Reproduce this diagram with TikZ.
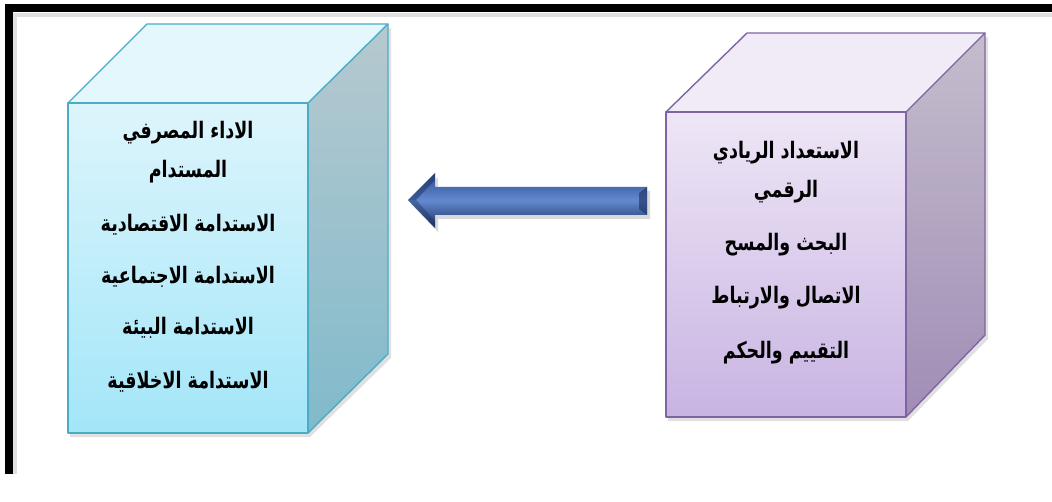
\documentclass[tikz,border=0pt]{standalone}
\usepackage{fontspec}
\newfontfamily\arabicfont[Script=Arabic]{DejaVu Sans}
\TeXXeTstate=1
\usetikzlibrary{calc}
\definecolor{cyanedge}{HTML}{4BACC6}
\definecolor{cyantop}{HTML}{E4F7FD}
\definecolor{cyanfronttop}{HTML}{DDF5FC}
\definecolor{cyanfrontbot}{HTML}{A3E6F8}
\definecolor{cyansidetop}{HTML}{B6C9CF}
\definecolor{cyansidebot}{HTML}{80BACB}
\definecolor{violetedge}{HTML}{8064A2}
\definecolor{violettop}{HTML}{F1EBF8}
\definecolor{violetfronttop}{HTML}{EEE6F6}
\definecolor{violetfrontbot}{HTML}{C8B4E2}
\definecolor{violetsidetop}{HTML}{C4BDCC}
\definecolor{violetsidebot}{HTML}{A08DB6}
\definecolor{arrowdark}{HTML}{1A2F5E}
\definecolor{arrowmid}{HTML}{6389D0}
\definecolor{arrowtop}{HTML}{2D4D92}
\newcommand{\artext}[1]{\scalebox{1}[1.3]{\beginR #1\endR}}
\tikzset{
  lbl/.style={font=\arabicfont\bfseries\fontsize{17.5}{20}\selectfont, inner sep=0pt, anchor=center},
  cubeedge/.style={line width=1.4pt, line join=round},
  shadowfill/.style={fill=black, opacity=0.12}
}
\begin{document}
\begin{tikzpicture}[x=1pt,y=-1pt]
\useasboundingbox (0,0) rectangle (1052,502);
\fill[white] (0,0) rectangle (1052,502);
% frame shadow and frame
\fill[black!12] (12,13) rectangle (1052,17);
\fill[black!12] (13,13) rectangle (17,474);
\draw[line width=8pt, line cap=butt] (8.5,474) -- (8.5,8) -- (1052,8);
% ---------- left cube ----------
\coordinate (L1) at (68,103);
\coordinate (L2) at (308,103);
\coordinate (L3) at (308,433);
\coordinate (L4) at (68,433);
\coordinate (L5) at (147,24);
\coordinate (L6) at (388,24);
\coordinate (L7) at (388,354);
\fill[shadowfill] ($(L1)+(2,4)$) -- ($(L4)+(2,4)$) -- ($(L3)+(2,4)$) -- ($(L7)+(3,4)$) -- ($(L6)+(3,4)$) -- cycle;
\shade[top color=cyanfronttop, bottom color=cyanfrontbot] (L1) -- (L2) -- (L3) -- (L4) -- cycle;
\fill[cyantop] (L1) -- (L5) -- (L6) -- (L2) -- cycle;
\shade[top color=cyansidetop, bottom color=cyansidebot] (L2) -- (L6) -- (L7) -- (L3) -- cycle;
\draw[cubeedge, cyanedge] (L1) -- (L2) -- (L3) -- (L4) -- cycle;
\draw[cubeedge, cyanedge] (L1) -- (L5) -- (L6) -- (L2);
\draw[cubeedge, cyanedge] (L6) -- (L7) -- (L3);
\node[lbl] (la) at (188,133) {\artext{الاداء المصرفي}};
\node[lbl] (lb) at (188,172) {\artext{المستدام}};
\node[lbl] (lc) at (188,225) {\artext{الاستدامة الاقتصادية}};
\node[lbl] (ld) at (188,277) {\artext{الاستدامة الاجتماعية}};
\node[lbl] (le) at (188,328) {\artext{الاستدامة البيئة}};
\node[lbl] (lf) at (188,382) {\artext{الاستدامة الاخلاقية}};
% ---------- right cube ----------
\coordinate (R1) at (666,112);
\coordinate (R2) at (906,112);
\coordinate (R3) at (906,417);
\coordinate (R4) at (666,417);
\coordinate (R5) at (747,33);
\coordinate (R6) at (985,33);
\coordinate (R7) at (985,335);
\fill[shadowfill] ($(R1)+(2,4)$) -- ($(R4)+(2,4)$) -- ($(R3)+(2,4)$) -- ($(R7)+(3,4)$) -- ($(R6)+(3,4)$) -- cycle;
\shade[top color=violetfronttop, bottom color=violetfrontbot] (R1) -- (R2) -- (R3) -- (R4) -- cycle;
\fill[violettop] (R1) -- (R5) -- (R6) -- (R2) -- cycle;
\shade[top color=violetsidetop, bottom color=violetsidebot] (R2) -- (R6) -- (R7) -- (R3) -- cycle;
\draw[cubeedge, violetedge] (R1) -- (R2) -- (R3) -- (R4) -- cycle;
\draw[cubeedge, violetedge] (R1) -- (R5) -- (R6) -- (R2);
\draw[cubeedge, violetedge] (R6) -- (R7) -- (R3);
\node[lbl] (ra) at (786,153) {\artext{الاستعداد الريادي}};
\node[lbl] (rb) at (786,192) {\artext{الرقمي}};
\node[lbl] (rc) at (786,245) {\artext{البحث والمسح}};
\node[lbl] (rd) at (786,298) {\artext{الاتصال والارتباط}};
\node[lbl] (re) at (786,353) {\artext{التقييم والحكم}};
% ---------- arrow ----------
\coordinate (tip) at (408,200);
\coordinate (tail) at (647,201);
\fill[black, opacity=0.15] (411,204) -- (438,177) -- (438,191) -- (650,191) -- (650,219) -- (438,219) -- (438,232) -- cycle;
\shade[top color=arrowtop, bottom color=arrowdark, middle color=arrowmid]
  (tip) -- (435,173) -- (435,187) -- (tail |- 0,187) -- (tail |- 0,215) -- (435,215) -- (435,228) -- cycle;
\fill[arrowdark, opacity=0.6] (tail |- 0,187) -- ++(-8,6) -- ++(0,16) -- (tail |- 0,215) -- cycle;
\fill[arrowdark, opacity=0.5] (tip) -- (435,173) -- (435,180) -- (416,200) -- cycle;
\fill[arrowdark, opacity=0.4] (tip) -- (435,228) -- (435,221) -- (416,200) -- cycle;
\end{tikzpicture}
\end{document}
